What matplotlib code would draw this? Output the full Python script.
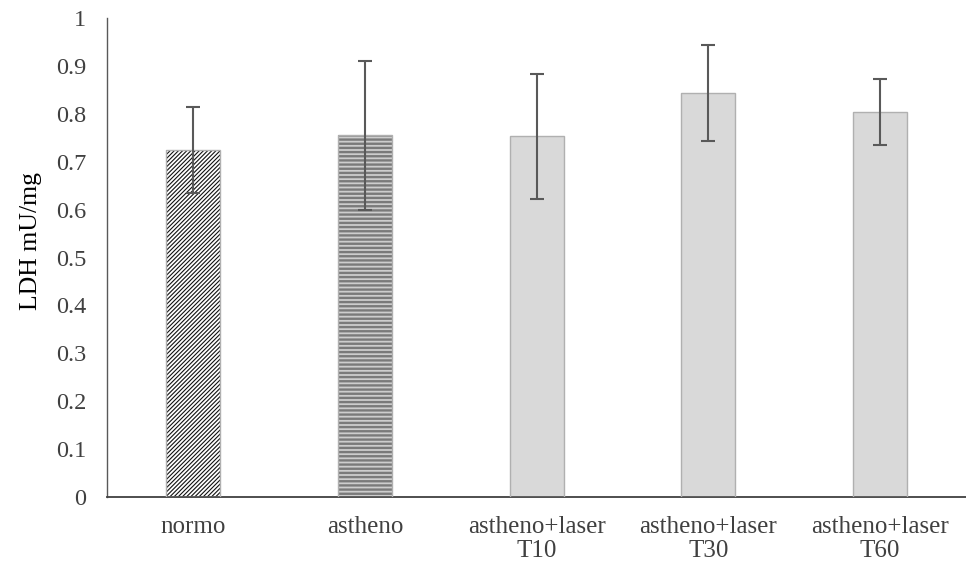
import matplotlib

matplotlib.use("Agg")
import matplotlib.pyplot as plt

plt.rcParams["font.family"] = ["Liberation Serif", "DejaVu Serif"]

categories = ["normo", "astheno", "astheno+laser\nT10", "astheno+laser\nT30", "astheno+laser\nT60"]
means = [0.725, 0.755, 0.753, 0.844, 0.803]
errors = [0.090, 0.156, 0.130, 0.100, 0.069]
y_ticks = [0, 0.1, 0.2, 0.3, 0.4, 0.5, 0.6, 0.7, 0.8, 0.9, 1]
y_tick_labels = ["0", "0.1", "0.2", "0.3", "0.4", "0.5", "0.6", "0.7", "0.8", "0.9", "1"]

TEXT = "#404040"
BAR_W = 0.315

fig = plt.figure(figsize=(9.66, 5.66), dpi=100)
ax = fig.add_axes([0.111, 0.122, 0.889, 0.846])

x = list(range(len(categories)))


def hatched_bar(xpos, h, face, hatch_color, hatch, hatch_lw):
    plt.rcParams["hatch.linewidth"] = hatch_lw
    b = ax.bar(xpos, h, width=BAR_W, color=face, edgecolor=hatch_color,
               hatch=hatch, linewidth=0, zorder=2)
    for p in b:
        if hasattr(p, "set_hatch_linewidth"):
            p.set_hatch_linewidth(hatch_lw)
    return b


# normo: fine diagonal black hatch on white
hatched_bar(x[0], means[0], "white", "#111111", "////////", 0.8)
# astheno: horizontal dark stripes on light gray
hatched_bar(x[1], means[1], "#cdcdcd", "#7a7a7a", "----", 1.7)
# laser groups: plain light gray
ax.bar(x[2:], means[2:], width=BAR_W, color="#d9d9d9", linewidth=0, zorder=2)

# outlines
ax.bar(x, means, width=BAR_W, facecolor="none", edgecolor="#b0b0b0", linewidth=1.0, zorder=3)

ax.errorbar(x, means, yerr=errors, fmt="none", ecolor="#595959", elinewidth=1.5,
            capsize=5, capthick=1.5, zorder=4)

ax.set_xlim(-0.5, len(categories) - 0.5)
ax.set_ylim(0, 1)
ax.set_yticks(y_ticks)
ax.set_yticklabels(y_tick_labels)
ax.set_xticks(x)
ax.set_xticklabels(categories, linespacing=1.12)
ax.tick_params(axis="y", length=0, pad=15, labelsize=17.5, labelcolor=TEXT)
ax.tick_params(axis="x", length=0, pad=14, labelsize=18, labelcolor=TEXT)

for s in ["top", "right"]:
    ax.spines[s].set_visible(False)
ax.spines["left"].set_color("#595959")
ax.spines["left"].set_linewidth(1.0)
ax.spines["bottom"].set_color("#404040")
ax.spines["bottom"].set_linewidth(1.3)

ax.set_ylabel("LDH mU/mg", fontsize=18.5, color="black")
ax.yaxis.set_label_coords(-0.076, 0.534)

fig.savefig("out.png", dpi=100)
